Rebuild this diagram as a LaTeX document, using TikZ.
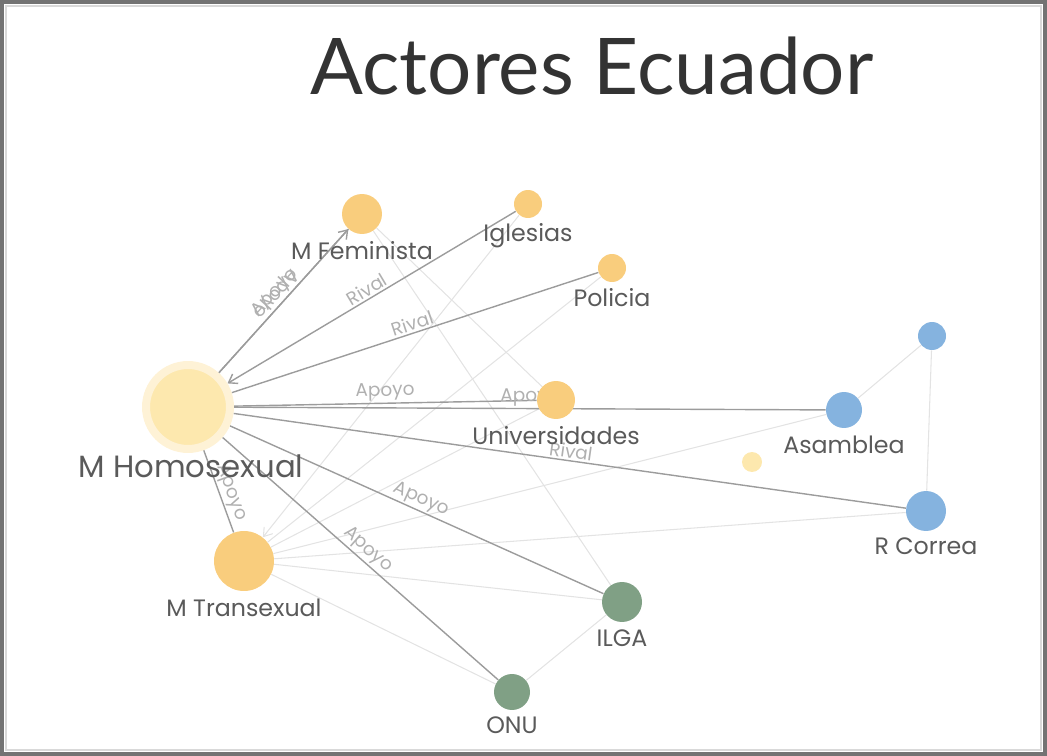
\documentclass[tikz,border=0pt]{standalone}
\usepackage{fontspec}
\setmainfont{Poppins}
\newfontfamily\titlefont{Lato}
\usetikzlibrary{positioning, calc, arrows.meta, backgrounds}

\definecolor{actorora}{HTML}{F9CD7D}
\definecolor{actorpale}{HTML}{FDE8AE}
\definecolor{actorhalo}{HTML}{FEF2D6}
\definecolor{actorblue}{HTML}{85B3DF}
\definecolor{actorgreen}{HTML}{80A085}
\definecolor{linkdark}{HTML}{9C9C9C}
\definecolor{linklight}{HTML}{E3E3E3}
\definecolor{namegray}{HTML}{5A5A5A}
\definecolor{linkgray}{HTML}{B0B0B0}

\begin{document}
\begin{tikzpicture}[x=0.02cm, y=-0.02cm,
	actor/.style={circle, inner sep=0pt, minimum size=#1*0.04cm},
	actorname/.style={inner sep=0pt, text=namegray, font=\fontsize{13.5}{16}\selectfont},
	linkdark/.style={draw=linkdark, line width=0.8pt},
	linklight/.style={draw=linklight, line width=0.6pt},
	linklabel/.style={midway, sloped, above, inner sep=1pt, text=linkgray, font=\fontsize{10.5}{12}\selectfont},
	tip/.style={-{Straight Barb[length=1.6mm, width=2.2mm]}}]
	\useasboundingbox (0,0) rectangle (1047,756);
	\draw[line width=0.07cm, black!55] (2,2) rectangle (1045,754);
	\draw[line width=0.05cm, black!15] (6,6) rectangle (1041,750);

	\node[font=\titlefont\fontsize{44.5}{52}\selectfont, text=black!80] (title) at (592,66) {Actores Ecuador};

	% actores
	\node[actor=42, fill=actorpale, draw=actorhalo, line width=0.16cm] (mh) at (188,407) {};
	\node[actor=20, fill=actorora] (mf) at (362,214) {};
	\node[actor=14, fill=actorora] (igl) at (528,204) {};
	\node[actor=14, fill=actorora] (pol) at (612,268) {};
	\node[actor=19, fill=actorora] (univ) at (556,400) {};
	\node[actor=30, fill=actorora] (mt) at (244,561) {};
	\node[actor=18, fill=actorblue] (asam) at (844,410) {};
	\node[actor=14, fill=actorblue] (top) at (932,336) {};
	\node[actor=20, fill=actorblue] (rc) at (926,511) {};
	\node[actor=10, fill=actorpale] (small) at (752,462) {};
	\node[actor=20, fill=actorgreen] (ilga) at (622,602) {};
	\node[actor=18, fill=actorgreen] (onu) at (512,692) {};

	\node[actorname, font=\fontsize{17.5}{20}\selectfont, below=0.03cm of mh, xshift=0.06cm] (mh-t) {M Homosexual};
	\node[actorname, below=0.14cm of mf] (mf-t) {M Feminista};
	\node[actorname, below=0.1cm of igl] (igl-t) {Iglesias};
	\node[actorname, below=0.12cm of pol] (pol-t) {Policia};
	\node[actorname, below=0.14cm of univ] (univ-t) {Universidades};
	\node[actorname, below=0.14cm of mt] (mt-t) {M Transexual};
	\node[actorname, below=0.14cm of asam] (asam-t) {Asamblea};
	\node[actorname, below=0.12cm of rc] (rc-t) {R Correa};
	\node[actorname, below=0.14cm of ilga] (ilga-t) {ILGA};
	\node[actorname, below=0.12cm of onu] (onu-t) {ONU};

	\begin{scope}[on background layer]
		% relaciones secundarias
		\draw[linklight] (mf) -- (ilga);
		\draw[linklight] (mf) -- (univ);
		\draw[linklight, tip] (igl) -- (mt);
		\draw[linklight] (pol) -- (mt);
		\draw[linklight] (univ) -- (mt);
		\draw[linklight] (asam) -- (mt);
		\draw[linklight] (rc) -- (mt);
		\draw[linklight] (ilga) -- (mt);
		\draw[linklight] (onu) -- (mt);
		\draw[linklight] (ilga) -- (onu);
		\draw[linklight] (asam) -- (top);
		\draw[linklight] (top) -- (rc);

		% relaciones de M Homosexual
		\draw[linkdark, tip] (mh) -- node[linklabel] (l1) {Apoyo} (mf);
		\draw[linkdark] (mf) -- node[linklabel, below, rotate=180] (l2) {Apoyo} (mh);
		\draw[linkdark, tip] (igl) -- node[linklabel] (l3) {Rival} (mh);
		\draw[linkdark] (mh) -- node[linklabel] (l4) {Rival} (pol);
		\draw[linkdark] (mh) -- node[linklabel] (l5) {Apoyo} (univ);
		\draw[linkdark] (mh) -- node[linklabel] (l6) {Apoyo} (asam);
		\draw[linkdark] (mh) -- node[linklabel] (l7) {Rival} (rc);
		\draw[linkdark] (mh) -- node[linklabel] (l8) {Apoyo} (ilga);
		\draw[linkdark] (mh) -- node[linklabel] (l9) {Apoyo} (onu);
		\draw[linkdark] (mh) -- node[linklabel, pos=0.56] (l10) {Apoyo} (mt);
	\end{scope}
\end{tikzpicture}
\end{document}
